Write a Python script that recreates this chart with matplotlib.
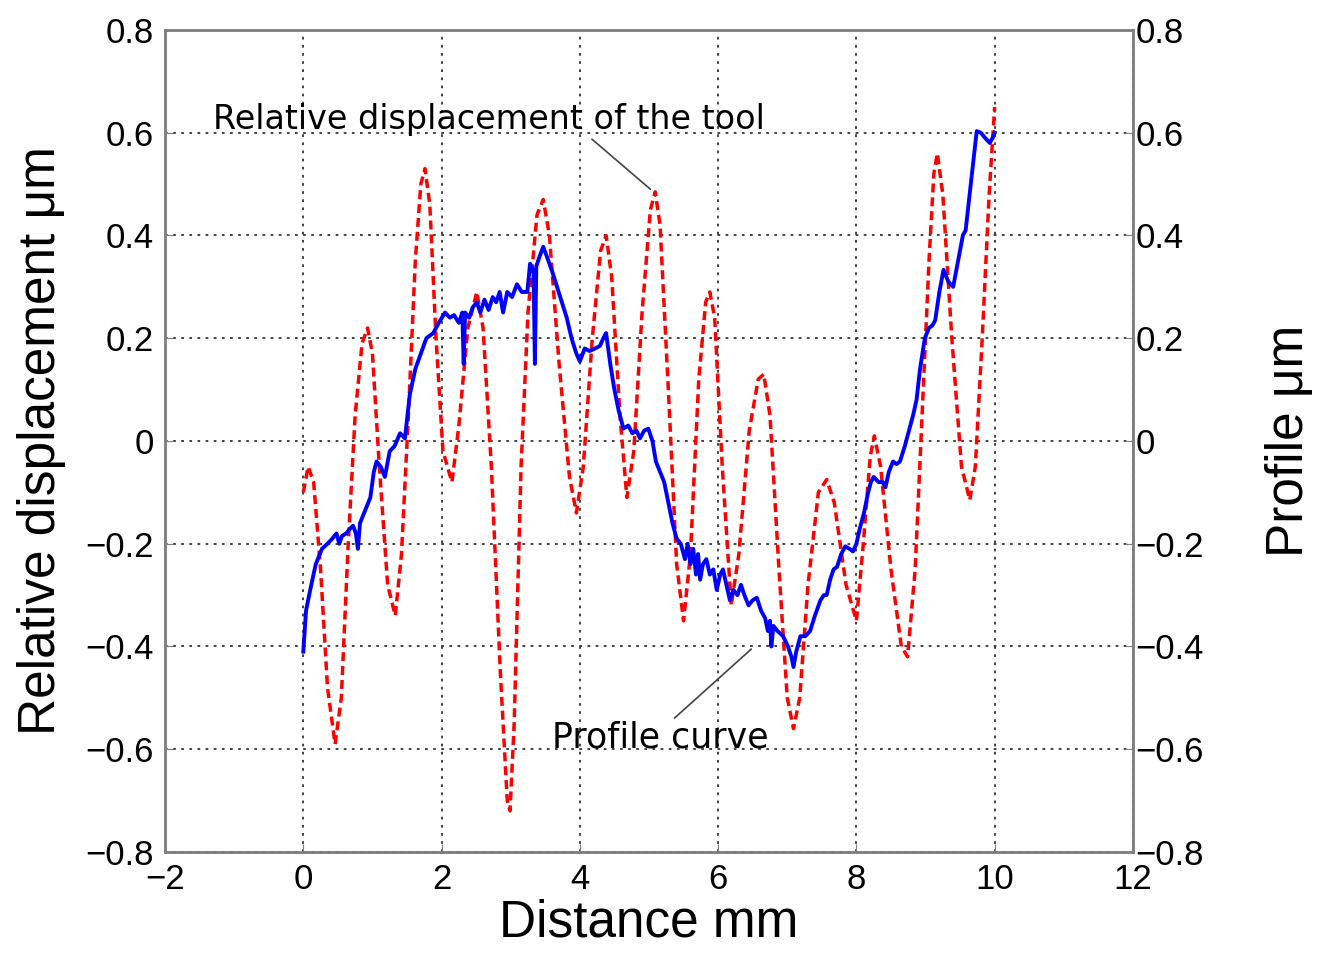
"""Relative tool displacement vs surface profile along the cut (twin y axes)."""
import matplotlib
matplotlib.use("Agg")
import matplotlib.pyplot as plt

# relative displacement of the tool (left axis, red dashed)
tool_x = [0.00, 0.07, 0.15, 0.25, 0.35, 0.46, 0.55, 0.65, 0.75, 0.85, 0.93,
          1.00, 1.10, 1.22, 1.33, 1.42, 1.52, 1.62, 1.70, 1.76, 1.83, 1.92,
          2.02, 2.15, 2.25, 2.38, 2.51, 2.60, 2.72, 2.85, 2.95, 2.99, 3.05,
          3.15, 3.25, 3.38, 3.47, 3.56, 3.70, 3.85, 3.95, 4.05, 4.18, 4.30,
          4.38, 4.46, 4.58, 4.68, 4.78, 4.90, 5.02, 5.09, 5.16, 5.28, 5.40,
          5.50, 5.60, 5.72, 5.82, 5.88, 5.95, 6.06, 6.19, 6.30, 6.45, 6.58,
          6.66, 6.75, 6.88, 7.00, 7.09, 7.18, 7.30, 7.45, 7.57, 7.68, 7.85,
          8.00, 8.10, 8.20, 8.26, 8.35, 8.50, 8.65, 8.74, 8.85, 8.95, 9.05,
          9.12, 9.17, 9.25, 9.38, 9.52, 9.64, 9.72, 9.82, 9.92, 10.00]
tool_y = [-0.10, -0.05, -0.08, -0.25, -0.48, -0.59, -0.50, -0.20, 0.05, 0.19, 0.22,
          0.17, -0.05, -0.28, -0.34, -0.22, 0.05, 0.35, 0.50, 0.53, 0.46, 0.20,
          -0.02, -0.08, 0.03, 0.22, 0.29, 0.22, -0.05, -0.45, -0.70, -0.72, -0.55,
          -0.05, 0.25, 0.44, 0.47, 0.40, 0.15, -0.07, -0.14, -0.05, 0.20, 0.37,
          0.40, 0.32, 0.05, -0.11, -0.02, 0.25, 0.45, 0.485, 0.42, 0.10, -0.24,
          -0.35, -0.22, 0.12, 0.27, 0.29, 0.24, -0.05, -0.32, -0.22, 0.02, 0.12,
          0.13, 0.05, -0.25, -0.50, -0.56, -0.50, -0.28, -0.10, -0.075, -0.12, -0.28,
          -0.35, -0.20, -0.03, 0.01, -0.05, -0.25, -0.40, -0.42, -0.25, 0.05, 0.35,
          0.52, 0.56, 0.48, 0.20, -0.05, -0.115, -0.05, 0.20, 0.48, 0.65]

# measured profile (right axis, blue solid)
prof_x = [0.00, 0.04, 0.10, 0.18, 0.27, 0.35, 0.42, 0.48, 0.52, 0.56, 0.62, 0.68,
          0.72, 0.76, 0.79, 0.82, 0.88, 0.97, 1.02, 1.06, 1.12, 1.18, 1.25, 1.32,
          1.40, 1.47, 1.54, 1.62, 1.70, 1.78, 1.88, 1.96, 2.05, 2.12, 2.18, 2.25,
          2.30, 2.32, 2.34, 2.40, 2.45, 2.51, 2.56, 2.62, 2.68, 2.74, 2.79, 2.84,
          2.89, 2.95, 3.02, 3.09, 3.16, 3.24, 3.28, 3.33, 3.35, 3.37, 3.42, 3.47,
          3.52, 3.60, 3.67, 3.74, 3.81, 3.88, 3.95, 4.00, 4.07, 4.14, 4.22, 4.29,
          4.34, 4.38, 4.44, 4.50, 4.56, 4.63, 4.70, 4.76, 4.82, 4.87, 4.93, 4.99,
          5.05, 5.10, 5.16, 5.22, 5.28, 5.34, 5.40, 5.46, 5.52, 5.56, 5.60, 5.64,
          5.68, 5.71, 5.74, 5.78, 5.83, 5.88, 5.93, 5.98, 6.03, 6.07, 6.12, 6.17,
          6.22, 6.28, 6.33, 6.38, 6.44, 6.50, 6.56, 6.62, 6.68, 6.72, 6.75, 6.77,
          6.80, 6.86, 6.94, 7.01, 7.06, 7.09, 7.13, 7.19, 7.26, 7.33, 7.40, 7.48,
          7.53, 7.57, 7.62, 7.67, 7.72, 7.78, 7.84, 7.90, 7.95, 8.00, 8.05, 8.11,
          8.17, 8.21, 8.25, 8.32, 8.38, 8.42, 8.47, 8.53, 8.58, 8.63, 8.70, 8.77,
          8.82, 8.87, 8.92, 8.99, 9.05, 9.10, 9.14, 9.20, 9.26, 9.33, 9.40, 9.47,
          9.54, 9.58, 9.63, 9.68, 9.74, 9.80, 9.86, 9.93, 9.97, 10.00]
prof_y = [-0.41, -0.33, -0.29, -0.24, -0.21, -0.20, -0.19, -0.18, -0.20, -0.185, -0.18, -0.17,
          -0.165, -0.18, -0.21, -0.16, -0.14, -0.11, -0.06, -0.04, -0.05, -0.07, -0.02, -0.01,
          0.015, 0.005, 0.09, 0.14, 0.17, 0.20, 0.21, 0.23, 0.25, 0.24, 0.245, 0.23,
          0.25, 0.15, 0.25, 0.24, 0.26, 0.27, 0.25, 0.275, 0.255, 0.28, 0.27, 0.29,
          0.25, 0.29, 0.28, 0.305, 0.29, 0.29, 0.345, 0.33, 0.15, 0.34, 0.36, 0.378,
          0.36, 0.33, 0.30, 0.27, 0.24, 0.20, 0.17, 0.155, 0.18, 0.175, 0.18, 0.185,
          0.20, 0.21, 0.15, 0.10, 0.06, 0.024, 0.03, 0.015, 0.02, 0.005, 0.02, 0.024,
          0.00, -0.04, -0.06, -0.08, -0.12, -0.16, -0.19, -0.20, -0.23, -0.20, -0.24, -0.21,
          -0.26, -0.22, -0.27, -0.24, -0.23, -0.26, -0.25, -0.29, -0.26, -0.25, -0.28, -0.31,
          -0.29, -0.30, -0.28, -0.30, -0.32, -0.31, -0.305, -0.33, -0.345, -0.37, -0.35, -0.40,
          -0.36, -0.37, -0.38, -0.40, -0.42, -0.44, -0.41, -0.38, -0.38, -0.37, -0.34, -0.31,
          -0.30, -0.30, -0.27, -0.25, -0.245, -0.22, -0.205, -0.21, -0.215, -0.20, -0.17, -0.14,
          -0.10, -0.08, -0.07, -0.08, -0.08, -0.09, -0.06, -0.04, -0.045, -0.04, -0.01, 0.025,
          0.05, 0.08, 0.14, 0.20, 0.22, 0.225, 0.235, 0.29, 0.333, 0.31, 0.30, 0.35,
          0.40, 0.41, 0.47, 0.53, 0.603, 0.60, 0.59, 0.58, 0.59, 0.60]

xticks = [-2, 0, 2, 4, 6, 8, 10, 12]
yticks = [-0.8, -0.6, -0.4, -0.2, 0, 0.2, 0.4, 0.6, 0.8]
ytick_labels = ["\u22120.8", "\u22120.6", "\u22120.4", "\u22120.2", "0", "0.2", "0.4", "0.6", "0.8"]

plt.rcParams["font.family"] = ["Liberation Sans", "DejaVu Sans"]
fig = plt.figure(figsize=(13.18, 9.6), dpi=100)
ax = fig.add_axes([0.1252, 0.1125, 0.7344, 0.8563])
frame = "#7f7f7f"

ax.plot(tool_x, tool_y, color="red", lw=2.5, dashes=(2.6, 1.4), zorder=3)
ax.set_xlim(-2, 12)
ax.set_ylim(-0.8, 0.8)
ax.set_xticks(xticks)
ax.set_yticks(yticks)
ax.set_yticklabels(ytick_labels)
ax.grid(True, color="#333333", linestyle=(0, (1.5, 3)), lw=1.3)
ax.tick_params(direction="in", length=6, labelsize=25, color=frame, pad=8)
for s in ax.spines.values():
    s.set_color(frame)
    s.set_linewidth(1.8)
ax.set_xlabel("Distance mm", fontsize=37, labelpad=2)
ax.set_ylabel("Relative displacement \u03bcm", fontsize=37, labelpad=14)

ax2 = ax.twinx()
ax2.plot(prof_x, prof_y, color="#0000ff", lw=2.8, zorder=4)
ax2.set_ylim(-0.8, 0.8)
ax2.set_yticks(yticks)
ax2.set_yticklabels(ytick_labels)
ax2.tick_params(direction="in", length=6, labelsize=25, color=frame, pad=2)
for s in ax2.spines.values():
    s.set_color(frame)
    s.set_linewidth(1.8)
ax2.set_ylabel("Profile \u03bcm", fontsize=37, labelpad=44)

ax.annotate("Relative displacement of the tool", xy=(5.02, 0.49), xytext=(-1.3, 0.625),
            fontsize=24, family="DejaVu Sans", va="center", ha="left",
            arrowprops=dict(arrowstyle="-", color="#444444", lw=1.2,
                            relpos=(0.68, 0.0), shrinkA=0, shrinkB=0))
ax2.annotate("Profile curve", xy=(6.48, -0.405), xytext=(3.6, -0.578),
             fontsize=25, family="DejaVu Sans", va="center", ha="left",
             arrowprops=dict(arrowstyle="-", color="#444444", lw=1.2,
                             relpos=(0.55, 1.0), shrinkA=0, shrinkB=0))

fig.savefig("out.png", dpi=100)
